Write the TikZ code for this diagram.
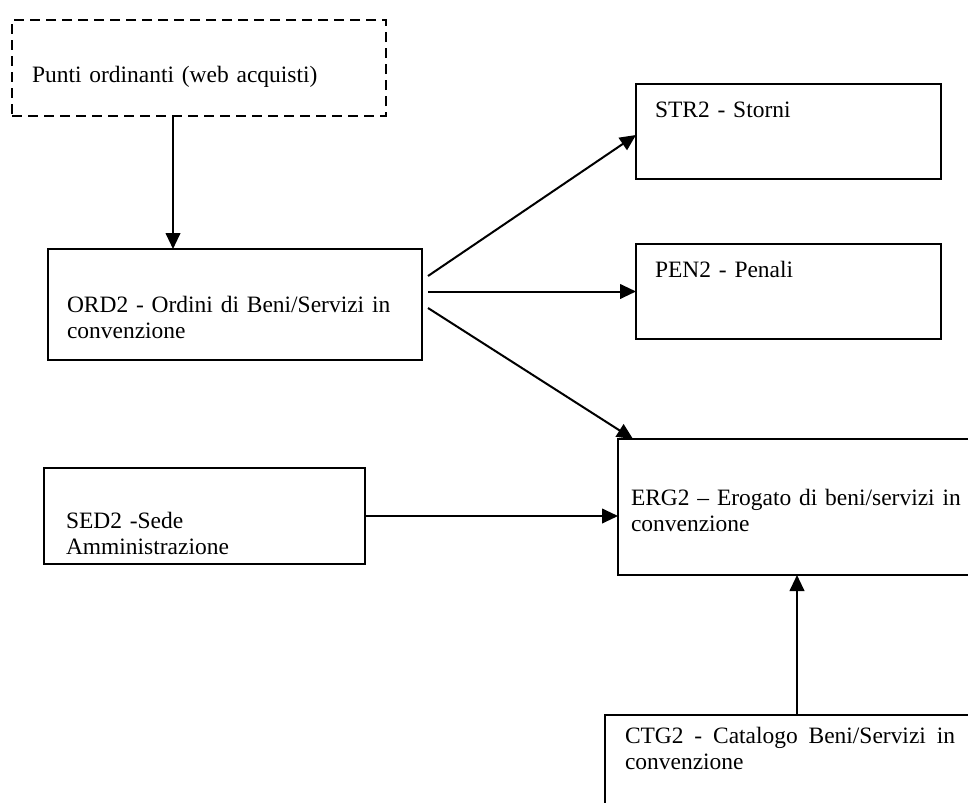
\documentclass[tikz,border=0pt]{standalone}
\usepackage{fontspec}
\setmainfont{Liberation Serif}
\usetikzlibrary{arrows.meta,calc}
\begin{document}
\begin{tikzpicture}[x=0.75pt,y=-0.75pt,
  box/.style={draw, line width=1.5pt, inner sep=0pt, outer sep=0pt},
  dbox/.style={box, dash pattern=on 7.5pt off 4.5pt},
  lbl/.style={anchor=base west, inner sep=0pt, outer sep=0pt, align=left,
    text width=#1, font=\fontsize{17.6pt}{19.5pt}\selectfont},
  lbl/.default=260pt,
  arr/.style={line width=1.5pt, -{Triangle[length=12pt,width=11pt]}}]
\useasboundingbox (0,0) rectangle (968,803);
\fill[white] (0,0) rectangle (968,803);
\clip (0,0) rectangle (968,803);
% boxes
\node[dbox, minimum width=280.5pt, minimum height=72pt] (pun) at (199,68) {};
\node[box, minimum width=280.5pt, minimum height=83.25pt] (ord) at (235,304.5) {};
\node[box, minimum width=228.75pt, minimum height=71.25pt] (str) at (788.5,131.5) {};
\node[box, minimum width=228.75pt, minimum height=71.25pt] (pen) at (788.5,291.5) {};
\node[box, minimum width=271.5pt, minimum height=102pt] (erg) at (799,507) {};
\node[box, minimum width=240.75pt, minimum height=72pt] (sed) at (204.5,516) {};
\node[box, minimum width=285pt, minimum height=86.25pt] (ctg) at (795,772.5) {};
% texts
\node[lbl] (punt) at (32,82) {Punti ordinanti (web acquisti)};
\node[lbl] (ordt) at (67,312) {ORD2 - Ordini di Beni/Servizi in\\convenzione};
\node[lbl] (strt) at (655,117) {STR2 - Storni};
\node[lbl] (pent) at (655,277) {PEN2 - Penali};
\node[lbl] (ergt) at (631,505) {ERG2 – Erogato di beni/servizi in\\convenzione};
\node[lbl] (sedt) at (66,528) {SED2 -Sede\\Amministrazione};
\node[lbl=247.5pt, align=justify] (ctgt) at (625,743) {CTG2 - Catalogo Beni/Servizi in convenzione};
% connector ends
\coordinate (p1) at ($(pun.south west)+(161,0)$);
\coordinate (o1) at ($(ord.east)+(6,-28.5)$);
\coordinate (s1) at ($(str.west)+(0,3.5)$);
\coordinate (o2a) at (ord.east |- pen.west);
\coordinate (o2) at ($(o2a)+(6,0)$);
\coordinate (o3) at ($(ord.east)+(6,3.5)$);
\coordinate (e1) at ($(erg.north west)+(15,0)$);
\coordinate (c1) at ($(ctg.north west)+(192,0)$);
% connectors
\draw[arr] (p1) -- (p1 |- ord.north);
\draw[arr] (o1) -- (s1);
\draw[arr] (o2) -- (pen.west);
\draw[arr] (o3) -- (e1);
\draw[arr] (sed.east) -- (sed.east -| erg.west);
\draw[arr] (c1) -- (c1 |- erg.south);
\end{tikzpicture}
\end{document}
